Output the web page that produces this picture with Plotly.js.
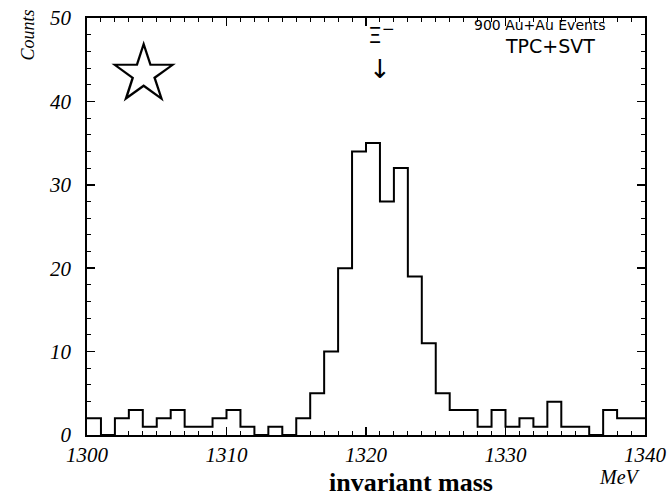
<!DOCTYPE html>
<html>
<head>
<meta charset="utf-8">
<script src="https://cdn.plot.ly/plotly-3.0.1.min.js"></script>
<style>html,body{margin:0;padding:0;background:#fff}#chart{width:667px;height:500px}</style>
</head>
<body>
<div id="chart"></div>
<script>
// bin left edges (MeV), 1 MeV bins
var binEdges = [1300,1301,1302,1303,1304,1305,1306,1307,1308,1309,
                1310,1311,1312,1313,1314,1315,1316,1317,1318,1319,
                1320,1321,1322,1323,1324,1325,1326,1327,1328,1329,
                1330,1331,1332,1333,1334,1335,1336,1337,1338,1339];
var binEnd = 1340;
var counts = [2,0,2,3,1,2,3,1,1,2,
              3,1,0,1,0,2,5,10,20,34,
              35,28,32,19,11,5,3,3,1,3,
              1,2,1,4,1,1,0,3,2,2];
var xTickVals = [1300,1310,1320,1330,1340];
var yTickVals = [0,10,20,30,40,50];

var xs = binEdges.concat([binEnd]);
var ys = counts.concat([counts[counts.length-1]]);

var tickFont = {family:'"Liberation Serif", "Times New Roman", serif', size:21, color:'#000', style:'italic'};

var trace = {
  x: xs, y: ys, type:'scatter', mode:'lines',
  line:{shape:'hv', color:'#000', width:2},
  hoverinfo:'skip', showlegend:false
};

var layout = {
  width:667, height:500,
  margin:{l:87, r:22, t:18, b:65},
  paper_bgcolor:'#fff', plot_bgcolor:'#fff',
  showlegend:false,
  xaxis:{
    range:[1300,1340], tickvals:xTickVals, ticktext:xTickVals.map(String),
    ticks:'inside', ticklen:8, tickwidth:1.5, tickcolor:'#000',
    minor:{dtick:1, ticks:'inside', ticklen:4, tickwidth:1, tickcolor:'#000'},
    showline:true, linecolor:'#000', linewidth:1.8, mirror:'ticks',
    showgrid:false, zeroline:false, tickfont:tickFont
  },
  yaxis:{
    range:[0,50], tickvals:yTickVals, ticktext:yTickVals.map(String),
    ticks:'inside', ticklen:8, tickwidth:1.5, tickcolor:'#000',
    minor:{dtick:2, ticks:'inside', ticklen:4, tickwidth:1, tickcolor:'#000'},
    showline:true, linecolor:'#000', linewidth:1.8, mirror:'ticks',
    showgrid:false, zeroline:false, tickfont:tickFont, ticklabelstandoff:10
  },
  annotations: [
    {xref:'paper', yref:'paper', x:0.1004, y:0.870, text:'☆', showarrow:false,
     font:{family:'"DejaVu Sans"', size:84, color:'#000'}, xanchor:'center', yanchor:'middle'},
    {xref:'paper', yref:'paper', x:0.527, y:0.962, text:'Ξ<sup>−</sup>', showarrow:false,
     font:{family:'"DejaVu Sans"', size:22, color:'#000'}, xanchor:'center', yanchor:'middle'},
    {xref:'paper', yref:'paper', x:0.525, y:0.878, text:'↓', showarrow:false,
     font:{family:'"DejaVu Sans"', size:26, color:'#000'}, xanchor:'center', yanchor:'middle'},
    {xref:'paper', yref:'paper', x:0.812, y:0.983, text:'900 Au+Au Events', showarrow:false,
     font:{family:'"DejaVu Sans"', size:14, color:'#000'}, xanchor:'center', yanchor:'middle'},
    {xref:'paper', yref:'paper', x:0.830, y:0.933, text:'TPC+SVT', showarrow:false,
     font:{family:'"DejaVu Sans"', size:19, color:'#000'}, xanchor:'center', yanchor:'middle'},
    {xref:'paper', yref:'paper', x:-0.106, y:0.96, text:'Counts', showarrow:false, textangle:-90,
     font:{family:'"Liberation Serif"', size:18, color:'#000', style:'italic'}, xanchor:'center', yanchor:'middle'},
    {xref:'paper', yref:'paper', x:0.955, y:-0.1007, text:'MeV', showarrow:false,
     font:{family:'"Liberation Serif"', size:20, color:'#000', style:'italic'}, xanchor:'center', yanchor:'middle'},
    {xref:'paper', yref:'paper', x:0.580, y:-0.1535, text:'<b>invariant mass</b>', showarrow:false,
     font:{family:'"Liberation Serif"', size:26, color:'#000'}, xanchor:'center', yanchor:'bottom'}
  ]
};

Plotly.newPlot('chart', [trace], layout, {staticPlot:true, displayModeBar:false});
</script>
</body>
</html>
